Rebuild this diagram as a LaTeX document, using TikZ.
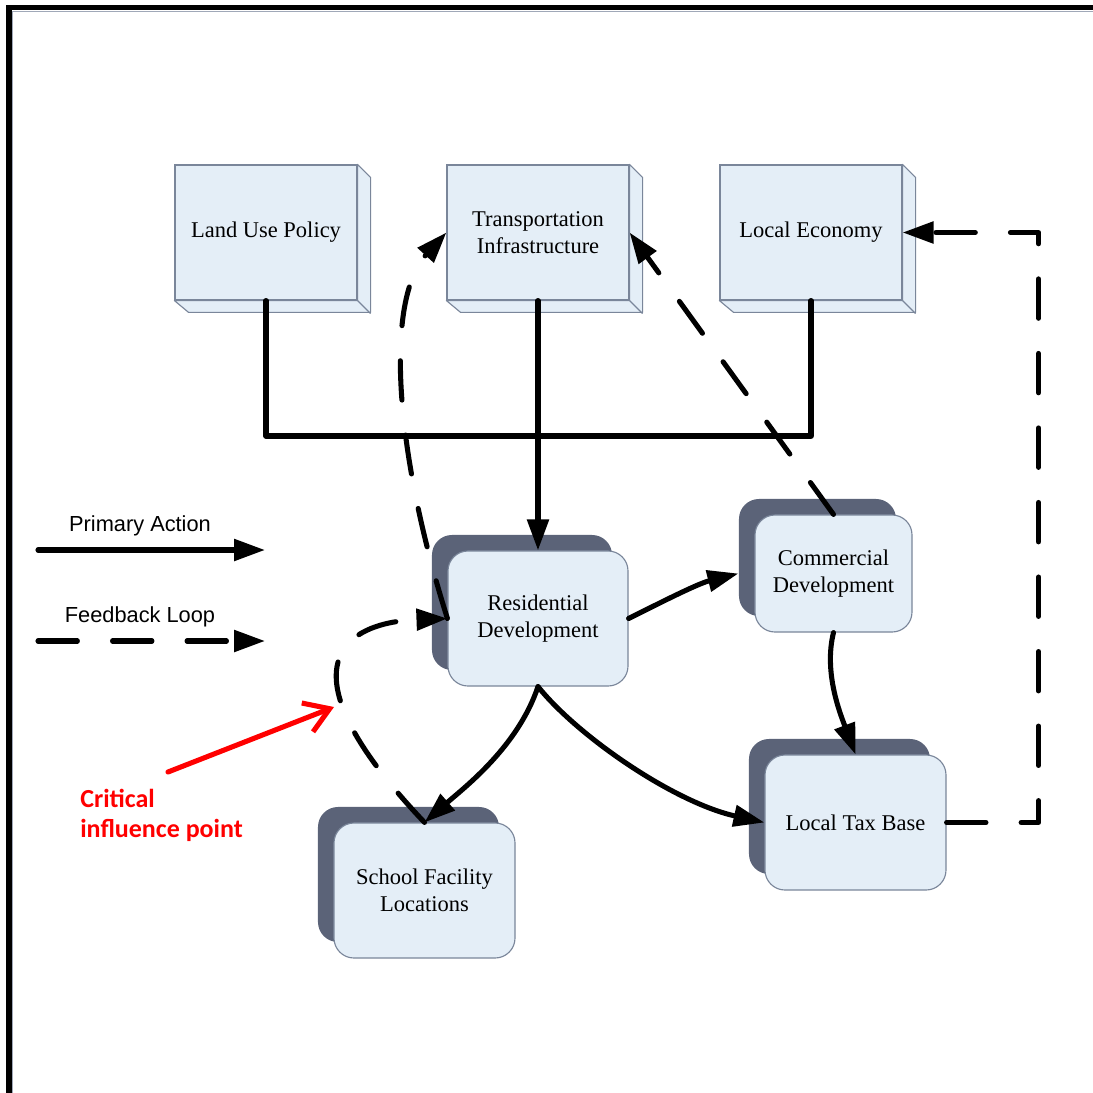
\documentclass[tikz,border=0pt]{standalone}
\usepackage{fontspec}
\setmainfont{Liberation Serif}
\newfontfamily\legendfont{Liberation Sans}
\newfontfamily\notefont{Carlito}
\usetikzlibrary{arrows.meta,shadows}

\definecolor{ccboxfill}{RGB}{228,238,247}
\definecolor{ccboxedge}{RGB}{122,134,154}
\definecolor{ccshadow}{RGB}{91,99,120}
\definecolor{ccframe}{RGB}{160,168,184}
\definecolor{ccnote}{RGB}{255,0,0}

\tikzset{
  flatbox/.style={draw=ccboxedge, fill=ccboxfill, line width=0.8pt, minimum width=4.55cm, minimum height=3.375cm, inner sep=0pt, align=center, font=\fontsize{16pt}{19pt}\selectfont},
  sideface/.style={draw=ccboxedge, fill=ccboxfill, line width=0.8pt, line join=round},
  roundbox/.style={draw=ccboxedge, fill=ccboxfill, line width=0.8pt, rounded corners=0.5cm, inner sep=0pt, align=center, font=\fontsize{16pt}{19pt}\selectfont, general shadow={shadow xshift=-0.4cm, shadow yshift=0.4cm, fill=ccshadow}},
  action/.style={line width=3.6pt, line cap=round, line join=round},
  feedback/.style={action, dash pattern=on 28pt off 25pt},
}

\begin{document}
\begin{tikzpicture}[x=0.025cm, y=-0.025cm, >={Triangle[length=22pt,width=15pt]}]

  \useasboundingbox (0,0) rectangle (1093,1093);

  % Frame
  \draw[line width=3.6pt] (9,1093) -- (9,7.5) -- (1093,7.5);
  \draw[ccframe, line width=1pt] (12.5,1093) -- (12.5,11.5) -- (1093,11.5);

  % Drivers
  \draw (266,232.5) node[flatbox] (land) {Land Use Policy};
  \draw (538,232.5) node[flatbox] (trans) {Transportation\\Infrastructure};
  \draw (811,232.5) node[flatbox] (econ) {Local Economy};
  \foreach \n in {land,trans,econ}{
    \draw[sideface] (\n.north east) -- ++(13,13) -- ++(0,135) -- ++(-182,0) -- (\n.south west) -- (\n.south east) -- cycle;
    \draw[sideface] (\n.south east) -- ++(13,13);
  }

  % Outcomes
  \draw (538,618.5) node[roundbox, minimum width=4.5cm, minimum height=3.375cm] (res) {Residential\\Development};
  \draw (833.5,573.5) node[roundbox, minimum width=3.925cm, minimum height=2.925cm] (comm) {Commercial\\Development};
  \draw (855.5,822.5) node[roundbox, minimum width=4.525cm, minimum height=3.375cm] (tax) {Local Tax Base};
  \draw (424.5,890.5) node[roundbox, minimum width=4.525cm, minimum height=3.375cm] (school) {School Facility\\Locations};

  % Primary actions
  \coordinate (bus) at (538,436);
  \draw[action] (land.south) |- (bus) -| (econ.south);
  \draw[action,->] (trans.south) -- (res.north);
  \draw[action,->] (res.east) .. controls +(40,-20) and +(-40,10) .. ([xshift=-0.4cm]comm.west);
  \draw[action,->] (comm.south) .. controls +(-10,40) and +(-15,-40) .. (tax.north);
  \draw[action,->] (res.south) .. controls +(-20,60) and +(40,-35) .. (school.north);
  \draw[action,->] (res.south) .. controls +(40,50) and +(-90,-20) .. (tax.west);

  % Feedback loops
  \draw[feedback,->] (res.west) .. controls +(-53,-168) and +(-62,68) .. (trans.west);
  \draw[feedback,->] (school.north) .. controls +(-145,-153) and +(-108,4) .. (res.west);
  \draw[feedback,->] (comm.north) -- (trans.east);
  \draw[feedback,->] (tax.east) -- ++(92,0) |- (econ.east);

  % Legend
  \draw (140,526) node[font=\legendfont\fontsize{15.5pt}{18pt}\selectfont] (primlbl) {Primary Action};
  \draw (140,617) node[font=\legendfont\fontsize{15.5pt}{18pt}\selectfont] (feedlbl) {Feedback Loop};
  \coordinate (prim1) at (38,550);
  \coordinate (prim2) at (265,550);
  \coordinate (feed1) at (38,641);
  \coordinate (feed2) at (265,641);
  \draw[action,->] (prim1) -- (prim2);
  \draw[feedback,->] (feed1) -- (feed2);

  % Critical influence point
  \draw (80,789) node[anchor=north west, inner sep=0pt, align=left, ccnote, font=\notefont\bfseries\fontsize{18.5pt}{21.5pt}\selectfont] (crit) {Critical\\influence point};
  \coordinate (tail) at (168,772);
  \coordinate (tip) at (334,707);
  \draw[ccnote, line width=3.6pt, line cap=round, line join=round, -{Straight Barb[length=17pt,width=22pt]}] (tail) -- (tip);

\end{tikzpicture}
\end{document}
